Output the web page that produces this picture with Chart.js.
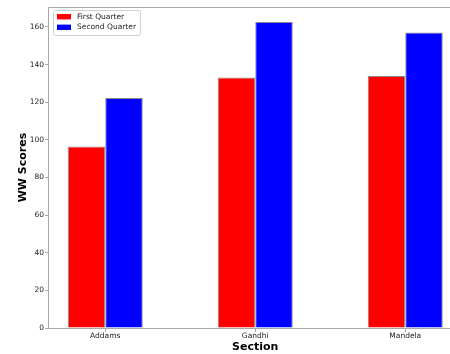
<!DOCTYPE html>
<html>
<head>
<meta charset="utf-8">
<script src="https://cdn.jsdelivr.net/npm/chart.js@4/dist/chart.umd.min.js"></script>
<style>
  html, body { margin: 0; padding: 0; background: #fff; overflow: hidden; }
  #wrap { width: 450px; height: 354px; overflow: hidden; }
</style>
</head>
<body>
<div id="wrap"><canvas id="c" width="480" height="354"></canvas></div>
<script>
// Data.
const sections = ['Addams', 'Gandhi', 'Mandela'];
const firstQuarter = [96.4, 133.1, 133.9];
const secondQuarter = [122.2, 162.6, 157.1];
const yTicks = [0, 20, 40, 60, 80, 100, 120, 140, 160];

const spine = '#a8a8a8';
const edge = '#8a8a8a';
const font = 'DejaVu Sans';

// Bars sit on a linear x axis so the group centre lines up with the tick.
const toPoints = (vals) => vals.map((y, i) => ({ x: i, y }));

// Box frame (the right spine falls outside the crop).
const frame = {
    id: 'frame',
    afterDraw(chart) {
        const { ctx, chartArea: a } = chart;
        ctx.save();
        ctx.strokeStyle = spine;
        ctx.lineWidth = 1;
        ctx.beginPath();
        ctx.moveTo(a.right, a.top + 0.5);
        ctx.lineTo(a.left - 0.5, a.top + 0.5);
        ctx.lineTo(a.left - 0.5, a.bottom + 0.5);
        ctx.lineTo(a.right, a.bottom + 0.5);
        ctx.stroke();
        ctx.restore();
    },
};

// Legend drawn inside the plot, top-left corner.
const innerLegend = {
    id: 'innerLegend',
    afterDraw(chart) {
        const { ctx, chartArea: a } = chart;
        const sets = chart.data.datasets;
        ctx.save();
        ctx.font = '7.5px "' + font + '"';
        const textW = Math.max(...sets.map((d) => ctx.measureText(d.label).width));
        const x0 = a.left + 4, y0 = a.top + 3;
        const w = 24 + textW + 4, h = 25;
        ctx.fillStyle = 'rgba(255,255,255,0.8)';
        ctx.strokeStyle = '#d0d0d0';
        ctx.lineWidth = 1;
        ctx.beginPath();
        ctx.roundRect(x0 + 0.5, y0 + 0.5, w, h, 2);
        ctx.fill();
        ctx.stroke();
        sets.forEach((d, i) => {
            const cy = y0 + 6.7 + i * 10.6;
            ctx.fillStyle = d.backgroundColor;
            ctx.fillRect(x0 + 4, cy - 2.7, 14, 5.4);
            ctx.fillStyle = '#222';
            ctx.textBaseline = 'middle';
            ctx.fillText(d.label, x0 + 24, cy);
        });
        ctx.restore();
    },
};

new Chart(document.getElementById('c'), {
    type: 'bar',
    data: {
        datasets: [
            { label: 'First Quarter', data: toPoints(firstQuarter), backgroundColor: '#ff0000', borderColor: edge, borderWidth: 1 },
            { label: 'Second Quarter', data: toPoints(secondQuarter), backgroundColor: '#0000ff', borderColor: edge, borderWidth: 1 },
        ],
    },
    options: {
        responsive: false,
        animation: false,
        categoryPercentage: 0.5,
        barPercentage: 1.0,
        layout: { padding: { top: 7, right: 18.5, left: 0, bottom: 0 } },
        plugins: { legend: { display: false }, tooltip: { enabled: false } },
        scales: {
            x: {
                type: 'linear',
                offset: false,
                min: -0.375,
                max: 2.375,
                border: { display: false },
                grid: { offset: false, drawOnChartArea: false, drawTicks: true, tickLength: 4, color: spine },
                afterBuildTicks: (s) => { s.ticks = sections.map((_, i) => ({ value: i })); },
                afterFit: (s) => { s.height = 26; },
                ticks: {
                    padding: 0,
                    color: '#222',
                    font: { family: font, size: 7.5 },
                    callback: (v) => sections[v],
                },
                title: {
                    display: true,
                    text: 'Section',
                    color: '#000',
                    font: { family: font, size: 11, weight: 'bold' },
                    padding: { top: 0, bottom: 0 },
                },
            },
            y: {
                min: 0,
                max: 170.6,
                border: { display: false },
                grid: { drawOnChartArea: false, drawTicks: true, tickLength: 4, color: spine },
                afterBuildTicks: (s) => { s.ticks = yTicks.map((v) => ({ value: v })); },
                afterFit: (s) => { s.width = 49; },
                ticks: {
                    padding: 1,
                    color: '#222',
                    font: { family: font, size: 7.5 },
                },
                title: {
                    display: true,
                    text: 'WW Scores',
                    color: '#000',
                    font: { family: font, size: 11, weight: 'bold' },
                    padding: { top: 16.5, bottom: 0 },
                },
            },
        },
    },
    plugins: [frame, innerLegend],
});
</script>
</body>
</html>
